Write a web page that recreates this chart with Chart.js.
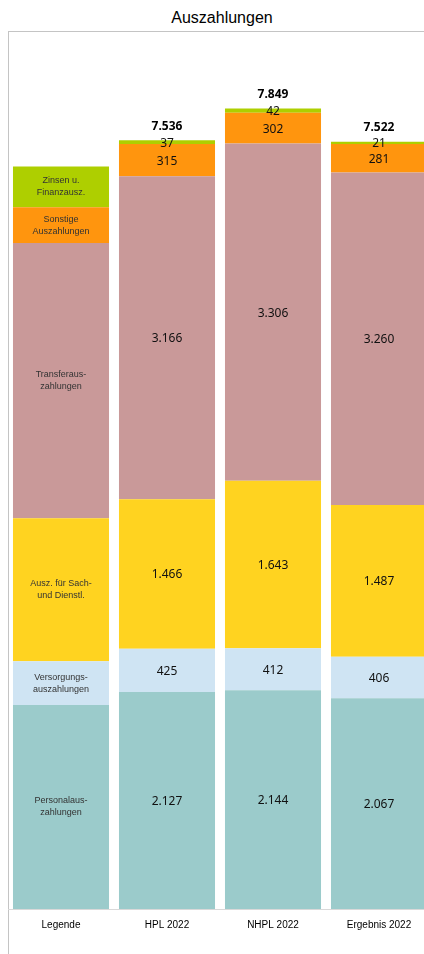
<!DOCTYPE html>
<html>
<head>
<meta charset="utf-8">
<script src="https://cdn.jsdelivr.net/npm/chart.js@4"></script>
<style>
    html, body { margin: 0; padding: 0; background: #fff; overflow: hidden; }
    #wrap { position: relative; width: 424px; height: 954px; overflow: hidden; }
    #titel { position: absolute; left: 0; top: 8px; width: 444px; text-align: center;
             font: 16px "Liberation Sans", Arial, sans-serif; line-height: 20px; color: #000; }
    #rahmen { position: absolute; left: 8px; top: 31px; width: 600px; height: 1000px;
              border: 1px solid #c4c4c4; box-sizing: border-box; }
    #chart { position: absolute; left: 0; top: 0; }
</style>
</head>
<body>
<div id="wrap">
    <div id="titel">Auszahlungen</div>
    <div id="rahmen"></div>
    <canvas id="chart" width="444" height="954"></canvas>
</div>
<script>
// Daten
const kategorien = ['Legende', 'HPL 2022', 'NHPL 2022', 'Ergebnis 2022'];
const personal   = [2000, 2127, 2144, 2067];
const versorgung = [430, 425, 412, 406];
const sachDienst = [1400, 1466, 1643, 1487];
const transfer   = [2700, 3166, 3306, 3260];
const sonstige   = [350, 315, 302, 281];
const zinsen     = [400, 37, 42, 21];

const legendeTexte = [
    ['Personalaus-', 'zahlungen'],
    ['Versorgungs-', 'auszahlungen'],
    ['Ausz. für Sach-', 'und Dienstl.'],
    ['Transferaus-', 'zahlungen'],
    ['Sonstige', 'Auszahlungen'],
    ['Zinsen u.', 'Finanzausz.']
];

function formatZahl(n) {
    return String(n).replace(/\B(?=(\d{3})+(?!\d))/g, '.');
}

// Beschriftungen in den Balken + Summen
const beschriftung = {
    id: 'beschriftung',
    afterDatasetsDraw(chart) {
        const ctx = chart.ctx;
        ctx.save();
        ctx.textAlign = 'center';
        ctx.textBaseline = 'middle';
        chart.data.datasets.forEach((ds, i) => {
            const meta = chart.getDatasetMeta(i);
            meta.data.forEach((bar, j) => {
                const mitte = (bar.y + bar.base) / 2;
                if (j === 0) {
                    ctx.fillStyle = '#333';
                    ctx.font = '9px "Liberation Sans", Arial, sans-serif';
                    const zeilen = legendeTexte[i];
                    zeilen.forEach((z, k) => {
                        ctx.fillText(z, bar.x, mitte + (k - (zeilen.length - 1) / 2) * 12);
                    });
                } else {
                    ctx.fillStyle = '#111';
                    ctx.font = '12px "Noto Sans", sans-serif';
                    ctx.fillText(formatZahl(ds.data[j]), bar.x, mitte + 1);
                }
            });
        });
        // Summen
        const letzte = chart.getDatasetMeta(chart.data.datasets.length - 1);
        ctx.font = 'bold 12px "Noto Sans", sans-serif';
        ctx.fillStyle = '#000';
        kategorien.forEach((k, j) => {
            if (j === 0) return;
            let summe = 0;
            chart.data.datasets.forEach(ds => { summe += ds.data[j]; });
            const bar = letzte.data[j];
            ctx.fillText(formatZahl(summe), bar.x, bar.y - 14);
        });
        ctx.restore();
    }
};

const ctx = document.getElementById('chart').getContext('2d');

new Chart(ctx, {
    type: 'bar',
    data: {
        labels: kategorien,
        datasets: [
            { label: 'Personalauszahlungen', data: personal, backgroundColor: '#9bcbcb' },
            { label: 'Versorgungsauszahlungen', data: versorgung, backgroundColor: '#cfe4f3' },
            { label: 'Ausz. für Sach- und Dienstl.', data: sachDienst, backgroundColor: '#ffd320' },
            { label: 'Transferauszahlungen', data: transfer, backgroundColor: '#c99999' },
            { label: 'Sonstige Auszahlungen', data: sonstige, backgroundColor: '#ff950e' },
            { label: 'Zinsen u. Finanzausz.', data: zinsen, backgroundColor: '#aecf00' }
        ]
    },
    options: {
        responsive: false,
        animation: false,
        devicePixelRatio: 1,
        layout: { padding: { top: 93, left: 8, right: 12, bottom: 0 } },
        datasets: {
            bar: { barPercentage: 0.906, categoryPercentage: 1 }
        },
        scales: {
            x: {
                stacked: true,
                grid: { display: false, drawTicks: false },
                border: { display: true, color: '#d9d9d9', width: 1 },
                ticks: {
                    color: '#000',
                    padding: 10,
                    font: { family: '"Liberation Sans", Arial, sans-serif', size: 10 }
                },
                afterFit: (scale) => { scale.height = 45; }
            },
            y: {
                stacked: true,
                display: false,
                min: 0,
                max: 8000
            }
        },
        plugins: {
            legend: { display: false },
            title: { display: false },
            tooltip: { enabled: false }
        }
    },
    plugins: [beschriftung]
});
</script>
</body>
</html>
